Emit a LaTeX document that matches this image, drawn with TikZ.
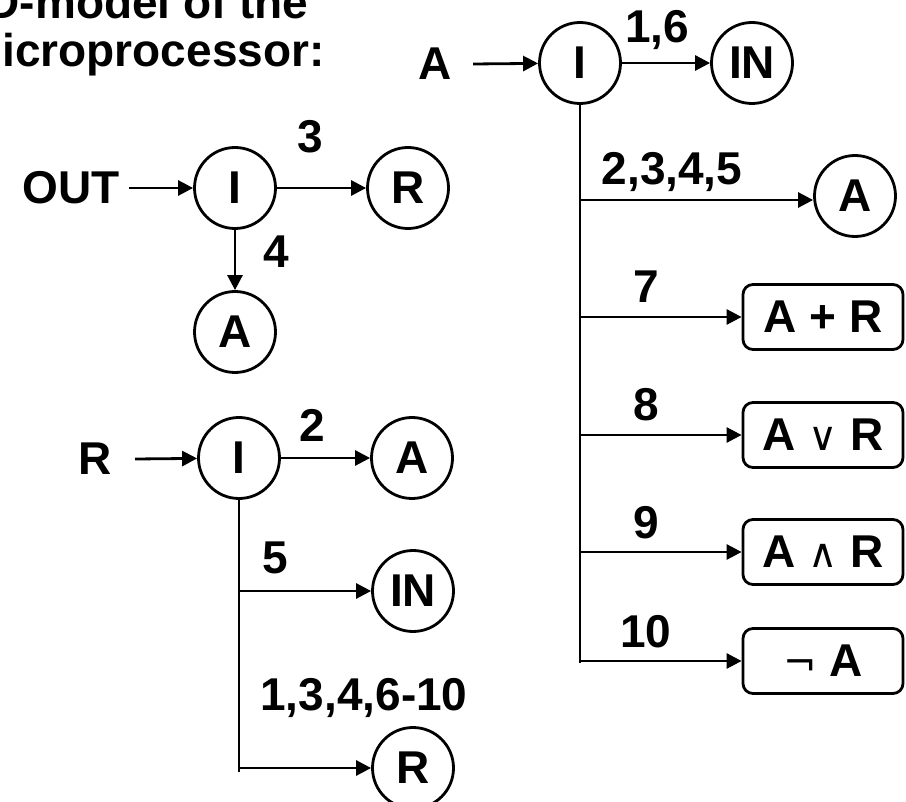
\documentclass[tikz,border=0pt]{standalone}
\usepackage{fontspec}
\setmainfont{Liberation Sans}
\newfontfamily\symfont{DejaVu Sans}
\usetikzlibrary{arrows.meta}

\begin{document}
\begin{tikzpicture}[
        x=1pt,
        y=-1pt,
        line width=2.8pt,
        line join=round,
        font=\fontsize{46}{55}\selectfont\bfseries,
        zustand/.style={draw, circle, minimum size=81pt, inner sep=0pt},
        opbox/.style={draw, rounded corners=10pt, minimum width=160pt,
                      minimum height=65pt, inner sep=0pt},
        eingang/.style={inner sep=0pt},
        nummer/.style={anchor=base, inner sep=0pt},
        pfeil/.style={-{Triangle[length=15pt,width=15pt]}}
    ]
        \def\sym#1#2{{\symfont\mdseries\fontsize{#1}{#1}\selectfont#2}}
        \useasboundingbox (0,0) rectangle (906,802);
        \clip (0,0) rectangle (906,802);

        % 标题（原图在左上角被截断）
        \node[anchor=base east, inner sep=0pt] (titel1) at (310,19) {D-model of the};
        \node[anchor=base east, inner sep=0pt] (titel2) at (326,67) {icroprocessor:};

        % 指令 OUT
        \node[eingang] (outIn) at (71,188) {OUT};
        \node[zustand] (outI) at (235,188) {I};
        \node[zustand] (outR) at (408,188) {R};
        \node[zustand] (outA) at (235,332) {A};
        \draw[pfeil] ([xshift=8pt]outIn.east) -- (outI);
        \draw[pfeil] (outI) -- (outR);
        \draw[pfeil] (outI) -- (outA);
        \node[nummer] (n3) at (310,153) {3};
        \node[nummer] (n4) at (276,268) {4};

        % 寄存器 R
        \node[eingang] (regIn) at (95,459) {R};
        \node[zustand] (regI) at (239,458) {I};
        \node[zustand] (regA) at (412,458) {A};
        \node[zustand] (regIN) at (413,591) {IN};
        \node[zustand] (regR) at (413,768) {R};
        \coordinate (regB5) at (239,591);
        \coordinate (regB) at (239,768);
        \coordinate (regEnd) at (239,772);
        \draw[pfeil] ([xshift=22pt]regIn.east) -- (regI);
        \draw[pfeil] (regI) -- (regA);
        \draw (regI.south) -- (regEnd);
        \draw[pfeil] (regB5) -- (regIN);
        \draw[pfeil] (regB) -- (regR);
        \node[nummer] (n2) at (312,442) {2};
        \node[nummer] (n5) at (275,573) {5};
        \node[nummer] (nRest) at (364,710) {1,3,4,6-10};

        % 累加器 A
        \node[eingang] (akkIn) at (435,64) {A};
        \node[zustand] (akkI) at (580,63) {I};
        \node[zustand] (akkIN) at (752,63) {IN};
        \node[zustand] (akkA) at (855,196) {A};
        \coordinate (akkB) at (580,200);
        \coordinate (akkEnd) at (580,663);
        \draw[pfeil] ([xshift=20pt]akkIn.east) -- (akkI);
        \draw[pfeil] (akkI) -- (akkIN);
        \draw (akkI.south) -- (akkEnd);
        \draw[pfeil] (akkB) -- (akkB -| akkA.west);
        \node[nummer] (n16) at (657,43) {1,6};
        \node[nummer] (n2345) at (672,185) {2,3,4,5};

        % 运算 7--10
        \foreach \nr/\yy/\txt in {7/317/{A + R}, 8/435/{A \sym{40}{∨} R},
                                  9/552/{A \sym{40}{∧} R}, 10/661/{\sym{40}{¬} A}} {
            \node[opbox] (box\nr) at (823,\yy) {\txt};
            \coordinate (akkB\nr) at (580,\yy);
            \draw[pfeil] (akkB\nr) -- (box\nr);
            \node[nummer] (n\nr) at (646,\yy-14) {\nr};
        }
    \end{tikzpicture}
\end{document}
